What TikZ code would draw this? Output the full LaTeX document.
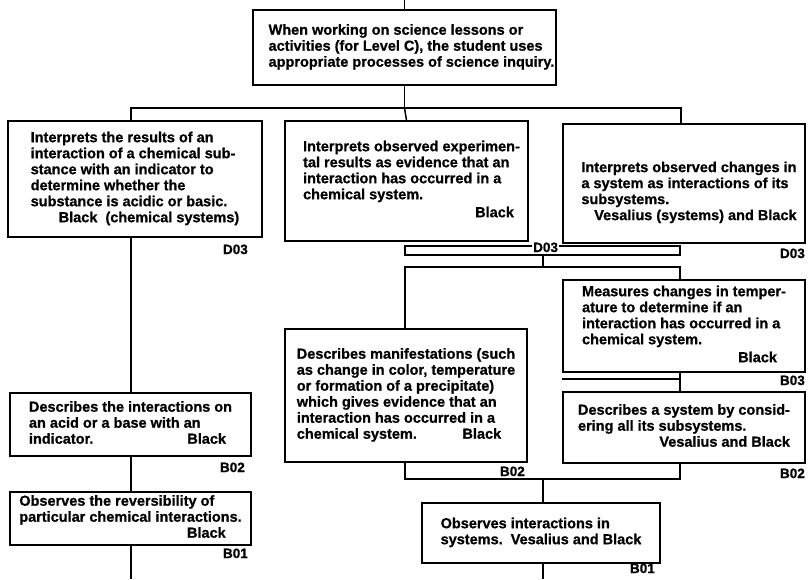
\documentclass[tikz,border=0pt]{standalone}
\usepackage{fontspec}
\setmainfont{Liberation Sans}[BoldFeatures={FakeBold=0.8}]
\newcommand\boxfont{\fontsize{14.5}{16}\selectfont\bfseries}
\newcommand\tagfont{\fontsize{13.5}{15}\selectfont\bfseries}
\newcommand\credit[1]{\multicolumn{1}{@{}r@{}}{#1}}
\newenvironment{lines}[1][0pt]{\begin{tabular}{@{\hspace{#1}}l@{}}}{\end{tabular}}
\tikzset{
  objective/.style={draw, line width=1.5pt, inner sep=0pt, font=\boxfont},
  link/.style={line width=1.5pt},
  code/.style={font=\tagfont, inner sep=0pt},
}
\begin{document}
\begin{tikzpicture}[x=1pt,y=-1pt]
\fill[white] (0,0) rectangle (809,579);
\useasboundingbox (0,0) rectangle (809,579);

% objectives
\node[objective, minimum width=303pt, minimum height=75pt] (goal) at (404.5,47.5)
  {\begin{lines}[14pt]When working on science lessons or\\activities (for Level C), the student uses\\appropriate processes of science inquiry.\end{lines}};
\node[objective, minimum width=254pt, minimum height=116pt] (L1) at (135,179)
  {\begin{lines}Interprets the results of an\\interaction of a chemical sub-\\stance with an indicator to\\determine whether the\\substance is acidic or basic.\\\hspace*{28pt}Black\ \ (chemical systems)\end{lines}};
\node[objective, minimum width=243pt, minimum height=120pt] (M1) at (406.5,181)
  {\begin{lines}[10pt]Interprets observed experimen-\\tal results as evidence that an\\interaction has occurred in a\\chemical system.\\[2pt]\credit{Black\hspace*{6pt}}\end{lines}};
\node[objective, minimum width=242pt, minimum height=119pt] (R1) at (684,183.5)
  {\begin{lines}[10pt]\rule{0pt}{30pt}Interprets observed changes in\\a system as interactions of its\\subsystems.\\\credit{Vesalius (systems) and Black}\end{lines}};
\node[objective, minimum width=242pt, minimum height=92pt] (R2) at (684,326)
  {\begin{lines}Measures changes in temper-\\ature to determine if an\\interaction has occurred in a\\chemical system.\\[2pt]\credit{Black\hspace*{9pt}}\end{lines}};
\node[objective, minimum width=242pt, minimum height=71pt] (R3) at (684,427.5)
  {\begin{lines}Describes a system by consid-\\ering all its subsystems.\\\credit{Vesalius and Black}\end{lines}};
\node[objective, minimum width=242pt, minimum height=133pt] (M2) at (406,395.5)
  {\begin{lines}Describes manifestations (such\\as change in color, temperature\\or formation of a precipitate)\\which gives evidence that an\\interaction has occurred in a\\chemical system.\hfill Black\hspace*{14pt}\end{lines}};
\node[objective, minimum width=238pt, minimum height=60pt] (M3) at (541,533)
  {\begin{lines}Observes interactions in\\systems.\ \ Vesalius and Black\end{lines}};
\node[objective, minimum width=241pt, minimum height=63pt] (L2) at (130.5,424.5)
  {\begin{lines}Describes the interactions on\\an acid or a base with an\\indicator.\hfill Black\hspace*{6pt}\end{lines}};
\node[objective, minimum width=241pt, minimum height=53pt] (L3) at (130.5,518.5)
  {\begin{lines}Observes the reversibility of\\particular chemical interactions.\\\credit{Black\hspace*{16pt}}\end{lines}};

% connectors: top level
\coordinate (entry) at (404.5,0);
\coordinate (hub) at (404.5,108);
\coordinate (busL) at (131,108);
\coordinate (busR) at (681,108);
\draw[link] (entry) -- (goal.north);
\draw[link] (goal.south) -- (hub);
\draw[link] (busL |- L1.north) -- (busL) -- (busR) -- (busR |- R1.north);
\draw[link] (hub) -- (M1.north);

% left column
\coordinate (exitL) at (131,579);
\draw[link] (busL |- L1.south) -- (busL |- L2.north);
\draw[link] (busL |- L2.south) -- (busL |- L3.north);
\draw[link] (busL |- L3.south) -- (exitL);

% junction below M1 and R1
\coordinate (ja) at (405,246);
\coordinate (jb) at (680,246);
\coordinate (jc) at (680,255);
\coordinate (jd) at (405,255);
\coordinate (stub) at (543,255);
\coordinate (jm) at (543,267);
\coordinate (jl) at (405,267);
\coordinate (jr) at (680,267);
\draw[link] (ja) -- (jb) -- (jc) -- (jd) -- cycle;
\draw[link] (stub) -- (jm);
\draw[link] (jl |- M2.north) -- (jl) -- (jr) -- (jr |- R2.north);

% right column
\coordinate (rcol) at (680,0);
\draw[link] (rcol |- R2.south) -- (rcol |- R3.north);
\draw[link] ([yshift=-6pt]R2.south west) -| (rcol |- R3.north);

% junction into M3
\coordinate (hub4) at (543,479);
\coordinate (m2drop) at (405,479);
\coordinate (r3drop) at (680,479);
\draw[link] (m2drop |- M2.south) -- (m2drop) -- (r3drop) -- (r3drop |- R3.south);
\draw[link] (hub4) -- (hub4 |- M3.north);
\coordinate (exitM) at (543,579);
\draw[link] (hub4 |- M3.south) -- (exitM);

% hierarchy codes
\node[code, anchor=base east] (tL1) at (248,254) {D03};
\node[code, anchor=base west, fill=white, inner sep=1pt] (tM1) at (532,252) {D03};
\node[code, anchor=base east] (tR1) at (805,258) {D03};
\node[code, anchor=base east] (tR2) at (805,385) {B03};
\node[code, anchor=base east] (tR3) at (805,478) {B02};
\node[code, anchor=base east] (tM2) at (525,476) {B02};
\node[code, anchor=base east] (tL2) at (245,472) {B02};
\node[code, anchor=base east] (tL3) at (248,558) {B01};
\node[code, anchor=base east] (tM3) at (655,573) {B01};
\end{tikzpicture}
\end{document}
